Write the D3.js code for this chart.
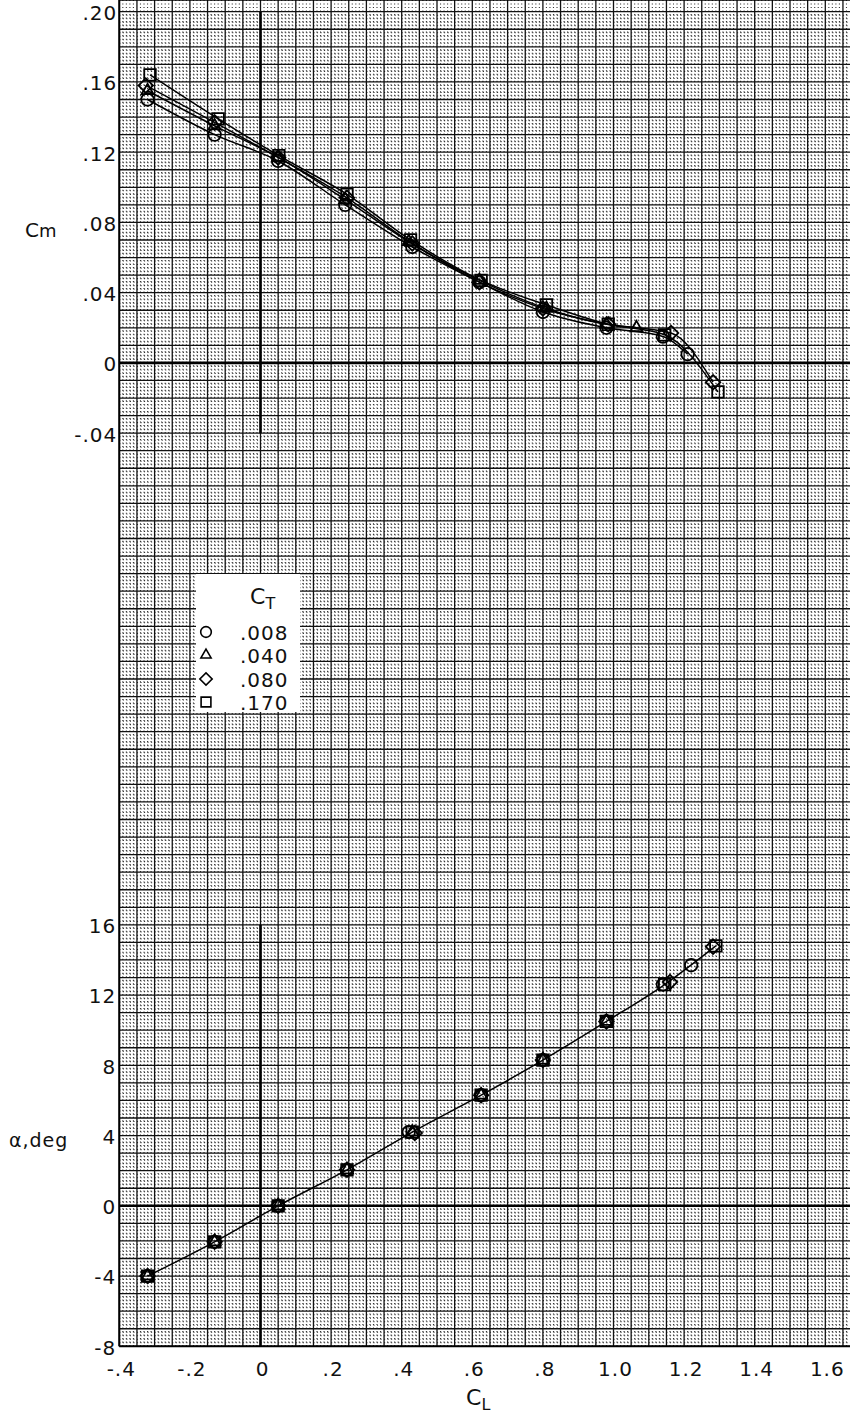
<!DOCTYPE html>
<html>
<head>
<meta charset="utf-8">
<script src="https://cdn.jsdelivr.net/npm/d3@7"></script>
<style>
  body { margin: 0; background: #fff; }
  svg text { font-family: "DejaVu Sans", sans-serif; fill: #111; }
</style>
</head>
<body>
<div id="chart"></div>
<script>
// thrust coefficient series (legend)
var thrustLabels = [".008", ".040", ".080", ".170"];
var symbolKinds = ["circle", "triangle", "diamond", "square"];

// pitching moment Cm vs CL
var cmCL = [
  [-0.32, -0.13, 0.05, 0.24, 0.43, 0.62, 0.80, 0.98, 1.14, 1.21],
  [-0.32, -0.13, 0.05, 0.24, 0.42, 0.62, 0.81, 0.98, 1.065],
  [-0.325, -0.13, 0.05, 0.245, 0.43, 0.62, 0.80, 0.985, 1.163, 1.282],
  [-0.313, -0.12, 0.052, 0.245, 0.425, 0.625, 0.81, 0.985, 1.145, 1.296]
];
var cmValues = [
  [0.150, 0.130, 0.115, 0.090, 0.066, 0.046, 0.029, 0.020, 0.015, 0.005],
  [0.155, 0.135, 0.117, 0.093, 0.069, 0.047, 0.031, 0.022, 0.020],
  [0.158, 0.137, 0.117, 0.094, 0.068, 0.046, 0.031, 0.022, 0.017, -0.011],
  [0.164, 0.139, 0.118, 0.096, 0.070, 0.047, 0.033, 0.022, 0.016, -0.0165]
];

// angle of attack vs CL
var alphaCL = [
  [-0.32, -0.13, 0.05, 0.245, 0.42, 0.625, 0.80, 0.98, 1.14, 1.22],
  [-0.32, -0.13, 0.05, 0.245, 0.43, 0.625, 0.80, 0.98],
  [-0.32, -0.13, 0.05, 0.245, 0.437, 0.625, 0.80, 0.98, 1.16, 1.282],
  [-0.32, -0.13, 0.05, 0.245, 0.43, 0.625, 0.80, 0.98, 1.145, 1.29]
];
var alphaValues = [
  [-4.0, -2.05, 0.0, 2.05, 4.2, 6.3, 8.3, 10.5, 12.6, 13.7],
  [-4.0, -2.05, 0.0, 2.05, 4.2, 6.3, 8.3, 10.5],
  [-4.0, -2.05, 0.0, 2.05, 4.15, 6.3, 8.3, 10.5, 12.75, 14.75],
  [-4.0, -2.05, 0.0, 2.05, 4.2, 6.3, 8.3, 10.5, 12.6, 14.8]
];

// tick labels
var xTicks = [-0.4, -0.2, 0, 0.2, 0.4, 0.6, 0.8, 1.0, 1.2, 1.4, 1.6];
var xTickLabels = ["-.4", "-.2", "0", ".2", ".4", ".6", ".8", "1.0", "1.2", "1.4", "1.6"];
var cmTicks = [0.20, 0.16, 0.12, 0.08, 0.04, 0, -0.04];
var cmTickLabels = [".20", ".16", ".12", ".08", ".04", "0", "-.04"];
var alphaTicks = [16, 12, 8, 4, 0, -4, -8];
var alphaTickLabels = ["16", "12", "8", "4", "0", "-4", "-8"];

var width = 850, height = 1417;
var svg = d3.select("#chart").append("svg").attr("width", width).attr("height", height);

var x = d3.scaleLinear().domain([-0.4, 1.6]).range([119.3, 825.3]);
var yCm = d3.scaleLinear().domain([0.20, -0.56]).range([11.7, 1346.3]);
var yA = d3.scaleLinear().domain([68, -8]).range([11.7, 1346.3]);

var left = x(-0.4), right = width, top = yCm(0.20), bottom = yCm(-0.56);

// graph paper
var paper = svg.append("g");
var subH = d3.range(0, 380).map(function(i){ return 0.20 - i * 0.002; });
var subV = d3.range(0, 215).map(function(i){ return -0.4 + i * 0.01; }).filter(function(v){ return x(v) <= right; });
var dotH = (x(0.01) - x(0));
var dotV = (yCm(0) - yCm(0.002));
paper.selectAll("line.dh").data(subH.filter(function(d, i){ return i % 5 !== 0; }))
  .enter().append("line")
  .attr("x1", left).attr("x2", right)
  .attr("y1", function(d){ return yCm(d); }).attr("y2", function(d){ return yCm(d); })
  .attr("stroke", "#333").attr("stroke-width", 1.1)
  .attr("stroke-dasharray", "1.1 " + (dotH - 1.1).toFixed(3));
paper.selectAll("line.dv").data(subV.filter(function(d, i){ return i % 5 !== 0; }))
  .enter().append("line")
  .attr("y1", top).attr("y2", bottom)
  .attr("x1", function(d){ return x(d); }).attr("x2", function(d){ return x(d); })
  .attr("stroke", "#333").attr("stroke-width", 1.1)
  .attr("stroke-dasharray", "1.1 " + (dotV - 1.1).toFixed(3));
paper.selectAll("line.gh").data(subH.filter(function(d, i){ return i % 5 === 0; }).concat([-0.56]))
  .enter().append("line")
  .attr("x1", left).attr("x2", right)
  .attr("y1", function(d){ return yCm(d); }).attr("y2", function(d){ return yCm(d); })
  .attr("stroke", "#111").attr("stroke-width", 1.3);
paper.selectAll("line.gv").data(subV.filter(function(d, i){ return i % 5 === 0; }))
  .enter().append("line")
  .attr("y1", top).attr("y2", bottom)
  .attr("x1", function(d){ return x(d); }).attr("x2", function(d){ return x(d); })
  .attr("stroke", "#111").attr("stroke-width", 1.3);

// plot border
paper.append("line").attr("x1", left).attr("x2", left).attr("y1", top).attr("y2", bottom)
  .attr("stroke", "#000").attr("stroke-width", 2);
paper.append("line").attr("x1", left).attr("x2", right).attr("y1", bottom).attr("y2", bottom)
  .attr("stroke", "#000").attr("stroke-width", 2);
paper.append("line").attr("x1", left).attr("x2", right).attr("y1", top).attr("y2", top)
  .attr("stroke", "#000").attr("stroke-width", 1.5);

// zero axes
var axes = svg.append("g").attr("stroke", "#000").attr("stroke-width", 2.6);
axes.append("line").attr("x1", left).attr("x2", right).attr("y1", yCm(0)).attr("y2", yCm(0));
axes.append("line").attr("x1", x(0)).attr("x2", x(0)).attr("y1", yCm(0.20)).attr("y2", yCm(-0.04));
axes.append("line").attr("x1", left).attr("x2", right).attr("y1", yA(0)).attr("y2", yA(0));
axes.append("line").attr("x1", x(0)).attr("x2", x(0)).attr("y1", yA(16)).attr("y2", yA(-8));

// tick labels
var labelFont = 20;
svg.append("g").selectAll("text").data(cmTicks).enter().append("text")
  .attr("x", left - 2).attr("y", function(d){ return yCm(d); }).attr("dy", "0.42em")
  .attr("text-anchor", "end").attr("font-size", labelFont).attr("letter-spacing", 1)
  .text(function(d, i){ return cmTickLabels[i]; });
svg.append("g").selectAll("text").data(alphaTicks).enter().append("text")
  .attr("x", left - 3).attr("y", function(d){ return yA(d); }).attr("dy", "0.42em")
  .attr("text-anchor", "end").attr("font-size", labelFont).attr("letter-spacing", 1)
  .text(function(d, i){ return alphaTickLabels[i]; });
svg.append("g").selectAll("text").data(xTicks).enter().append("text")
  .attr("x", function(d){ return x(d) + 2; }).attr("y", 1376)
  .attr("text-anchor", "middle").attr("font-size", labelFont).attr("letter-spacing", 1)
  .text(function(d, i){ return xTickLabels[i]; });

// axis titles
var cmTitle = svg.append("text").attr("x", 25).attr("y", 237).attr("font-size", 20);
cmTitle.append("tspan").text("C");
cmTitle.append("tspan").attr("font-size", 18).text("m");
svg.append("text").attr("x", 9).attr("y", 1147).attr("font-size", 19)
  .attr("letter-spacing", 1).text("α,deg");
var clTitle = svg.append("text").attr("x", 466).attr("y", 1405).attr("font-size", 22);
clTitle.append("tspan").text("C");
clTitle.append("tspan").attr("font-size", 16).attr("dy", 5).text("L");

// markers
function markerPath(kind, s) {
  if (kind === "circle") return d3.symbol(d3.symbolCircle, Math.PI * s * s / 4)();
  if (kind === "triangle") return d3.symbol(d3.symbolTriangle, Math.sqrt(3) / 4 * s * s)();
  if (kind === "diamond") return d3.symbol(d3.symbolSquare, s * s / 2)();
  return d3.symbol(d3.symbolSquare, s * s * 0.85)();
}
function markerTransform(kind, px, py) {
  return "translate(" + px + "," + py + ")" + (kind === "diamond" ? " rotate(45)" : "");
}
var sizes = { circle: 12.5, triangle: 12, diamond: 14.5, square: 12.5 };

// Cm curves
var cmLine = d3.line().curve(d3.curveMonotoneX)
  .x(function(d){ return x(d[0]); }).y(function(d){ return yCm(d[1]); });
var cmG = svg.append("g");
cmCL.forEach(function(cls, s) {
  var pts = cls.map(function(c, i){ return [c, cmValues[s][i]]; });
  cmG.append("path").datum(pts).attr("d", cmLine)
    .attr("fill", "none").attr("stroke", "#000").attr("stroke-width", 1.5);
});
cmCL.forEach(function(cls, s) {
  var kind = symbolKinds[s];
  cmG.append("g").selectAll("path").data(cls).enter().append("path")
    .attr("d", markerPath(kind, sizes[kind]))
    .attr("transform", function(c, i){ return markerTransform(kind, x(c), yCm(cmValues[s][i])); })
    .attr("fill", "none").attr("stroke", "#000").attr("stroke-width", 1.8);
});

// alpha curve (faired through the .170 points)
var aLine = d3.line().curve(d3.curveMonotoneX)
  .x(function(d){ return x(d[0]); }).y(function(d){ return yA(d[1]); });
var aG = svg.append("g");
var aPts = alphaCL[3].map(function(c, i){ return [c, alphaValues[3][i]]; });
aG.append("path").datum(aPts).attr("d", aLine)
  .attr("fill", "none").attr("stroke", "#000").attr("stroke-width", 1.5);
alphaCL.forEach(function(cls, s) {
  var kind = symbolKinds[s];
  aG.append("g").selectAll("path").data(cls).enter().append("path")
    .attr("d", markerPath(kind, sizes[kind]))
    .attr("transform", function(c, i){ return markerTransform(kind, x(c), yA(alphaValues[s][i])); })
    .attr("fill", "none").attr("stroke", "#000").attr("stroke-width", 1.8);
});

// legend
var lg = svg.append("g");
lg.append("rect").attr("x", 196).attr("y", 574).attr("width", 104).attr("height", 138)
  .attr("fill", "#fff");
var ctTitle = lg.append("text").attr("x", 250).attr("y", 604).attr("font-size", 22);
ctTitle.append("tspan").text("C");
ctTitle.append("tspan").attr("font-size", 16).attr("dy", 5).text("T");
var rowY = [632, 655, 679, 702];
thrustLabels.forEach(function(lab, i) {
  var kind = symbolKinds[i];
  lg.append("path").attr("d", markerPath(kind, sizes[kind] * 0.85))
    .attr("transform", markerTransform(kind, 206, rowY[i]))
    .attr("fill", "none").attr("stroke", "#000").attr("stroke-width", 1.6);
  lg.append("text").attr("x", 240).attr("y", rowY[i]).attr("dy", "0.38em")
    .attr("font-size", 20).attr("letter-spacing", 1).text(lab);
});
</script>
</body>
</html>
